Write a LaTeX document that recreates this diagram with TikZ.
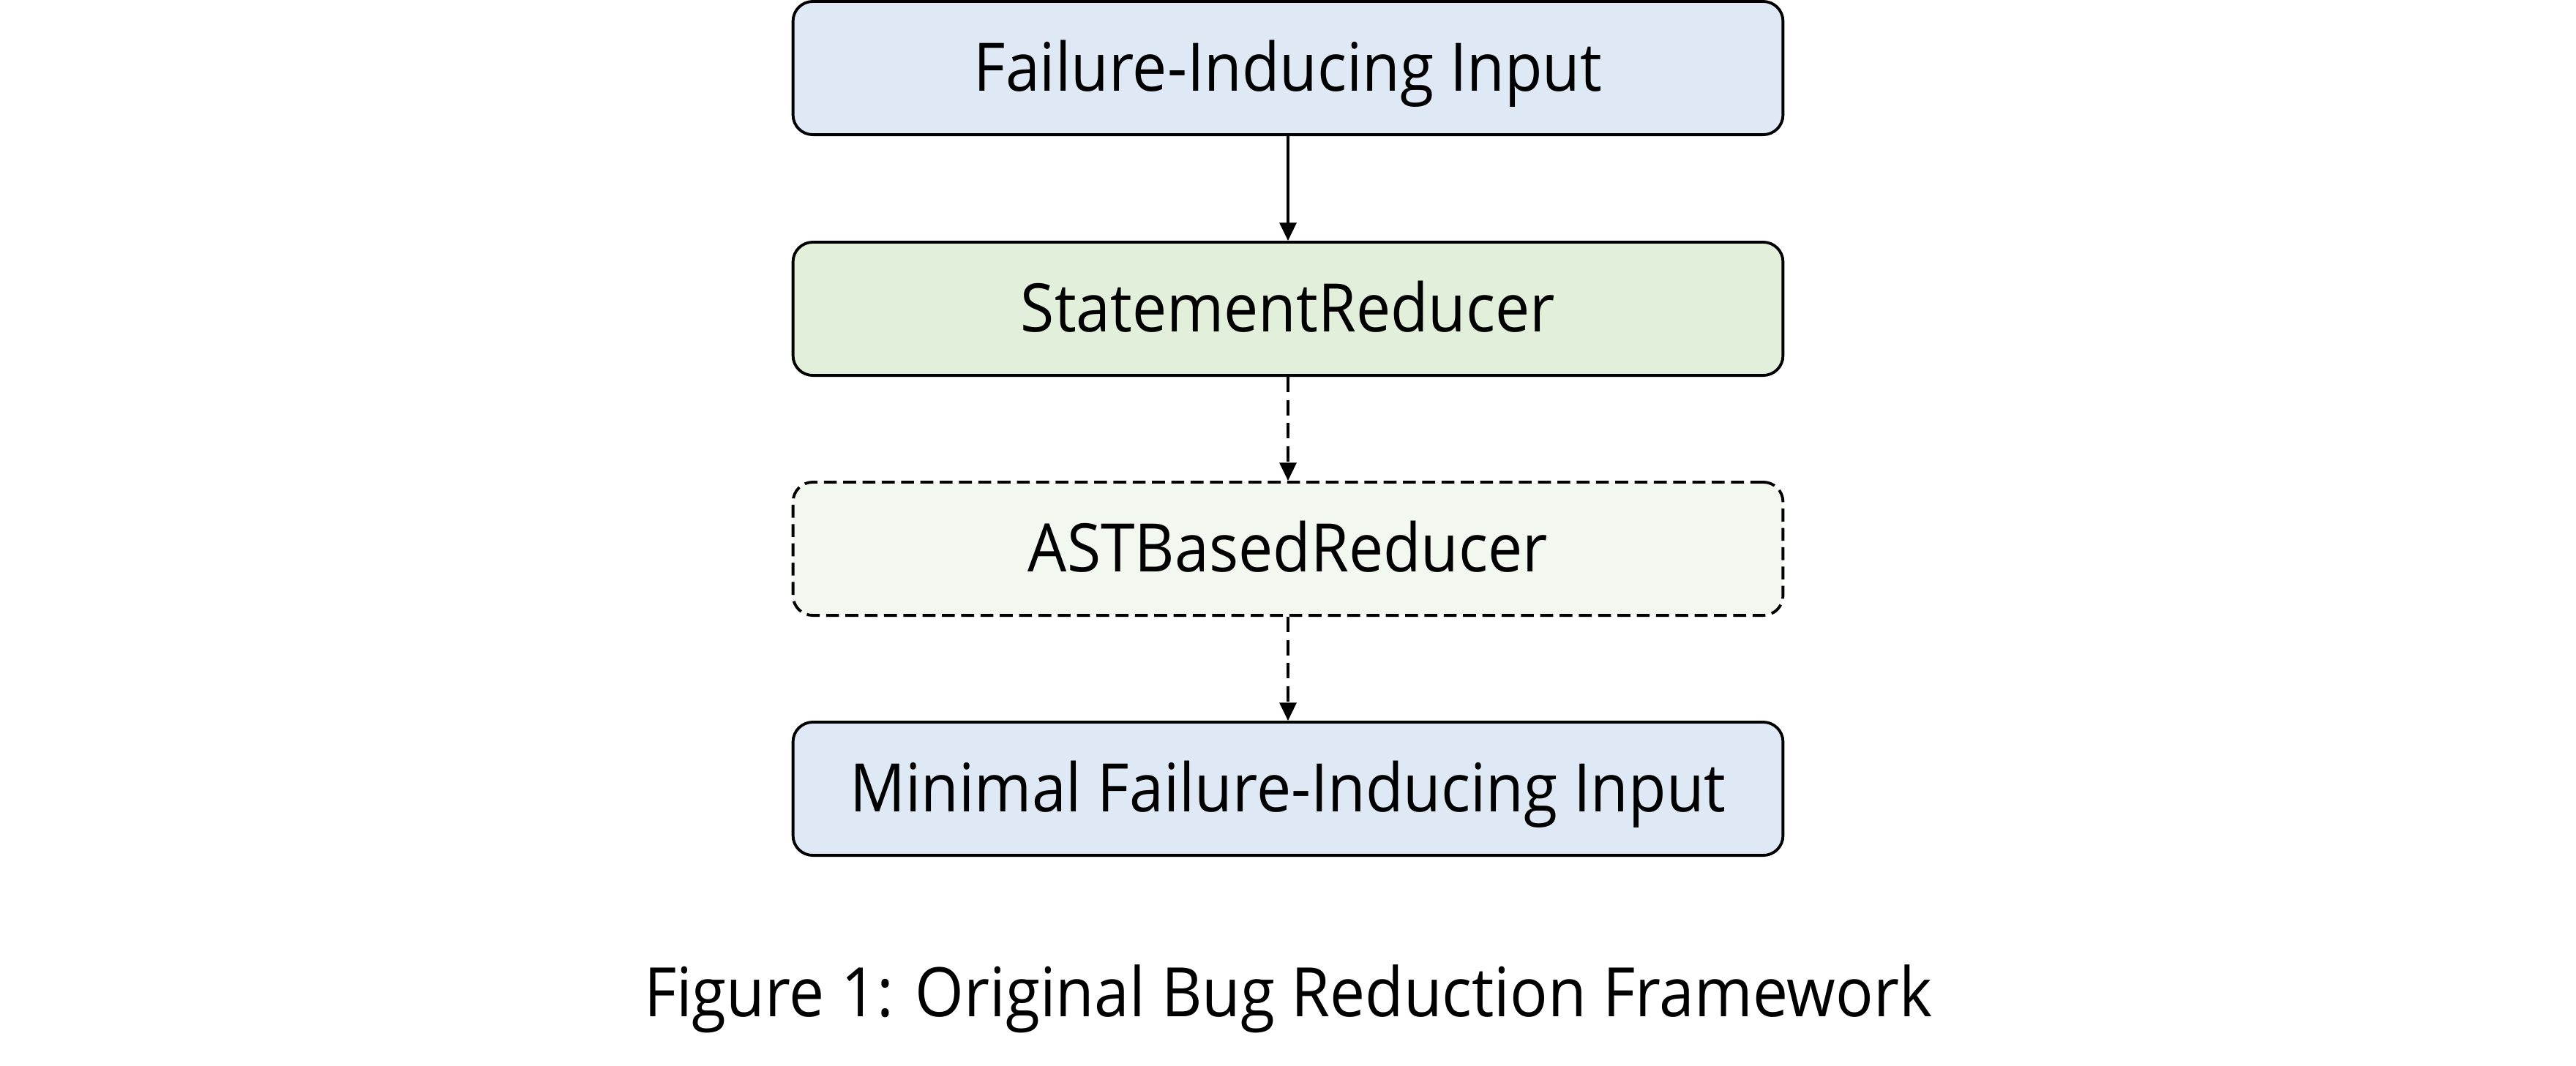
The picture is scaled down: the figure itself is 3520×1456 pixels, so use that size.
\documentclass[tikz,border=0pt]{standalone}
\usepackage{fontspec}
\setmainfont{Open Sans}[FakeStretch=0.92]
\usetikzlibrary{arrows.meta}
\definecolor{bluefill}{HTML}{DEE9F5}
\definecolor{greenfill}{HTML}{E2EFDA}
\definecolor{palefill}{HTML}{F2F7EF}
\begin{document}
\begin{tikzpicture}[x=0.01cm,y=-0.01cm,
  box/.style={draw=black, line width=1.1pt, rounded corners=0.27cm, minimum width=13.52cm, minimum height=1.82cm, inner sep=0pt, text height=21pt, text depth=3pt, font=\fontsize{26}{30}\selectfont},
  dashbox/.style={box, dash pattern=on 5pt off 2.5pt},
  conn/.style={line width=1pt, -{Triangle[length=7pt,width=6.5pt]}},
  dconn/.style={conn, dash pattern=on 6pt off 3pt}]
\useasboundingbox (0,0) rectangle (3520,1456);
\node[box, fill=bluefill] (in) at (1760,93) {Failure-Inducing Input};
\node[box, fill=greenfill] (sr) at (1760,422) {StatementReducer};
\node[dashbox, fill=palefill] (ast) at (1760,750) {ASTBasedReducer};
\node[box, fill=bluefill] (out) at (1760,1078) {Minimal Failure-Inducing Input};
\node[font=\fontsize{26.5}{30}\selectfont] (cap) at (1760,1365) {Figure 1: Original Bug Reduction Framework};
\draw[conn] (in) -- (sr);
\draw[dconn] (sr) -- (ast);
\draw[dconn] (ast) -- (out);
\end{tikzpicture}
\end{document}
